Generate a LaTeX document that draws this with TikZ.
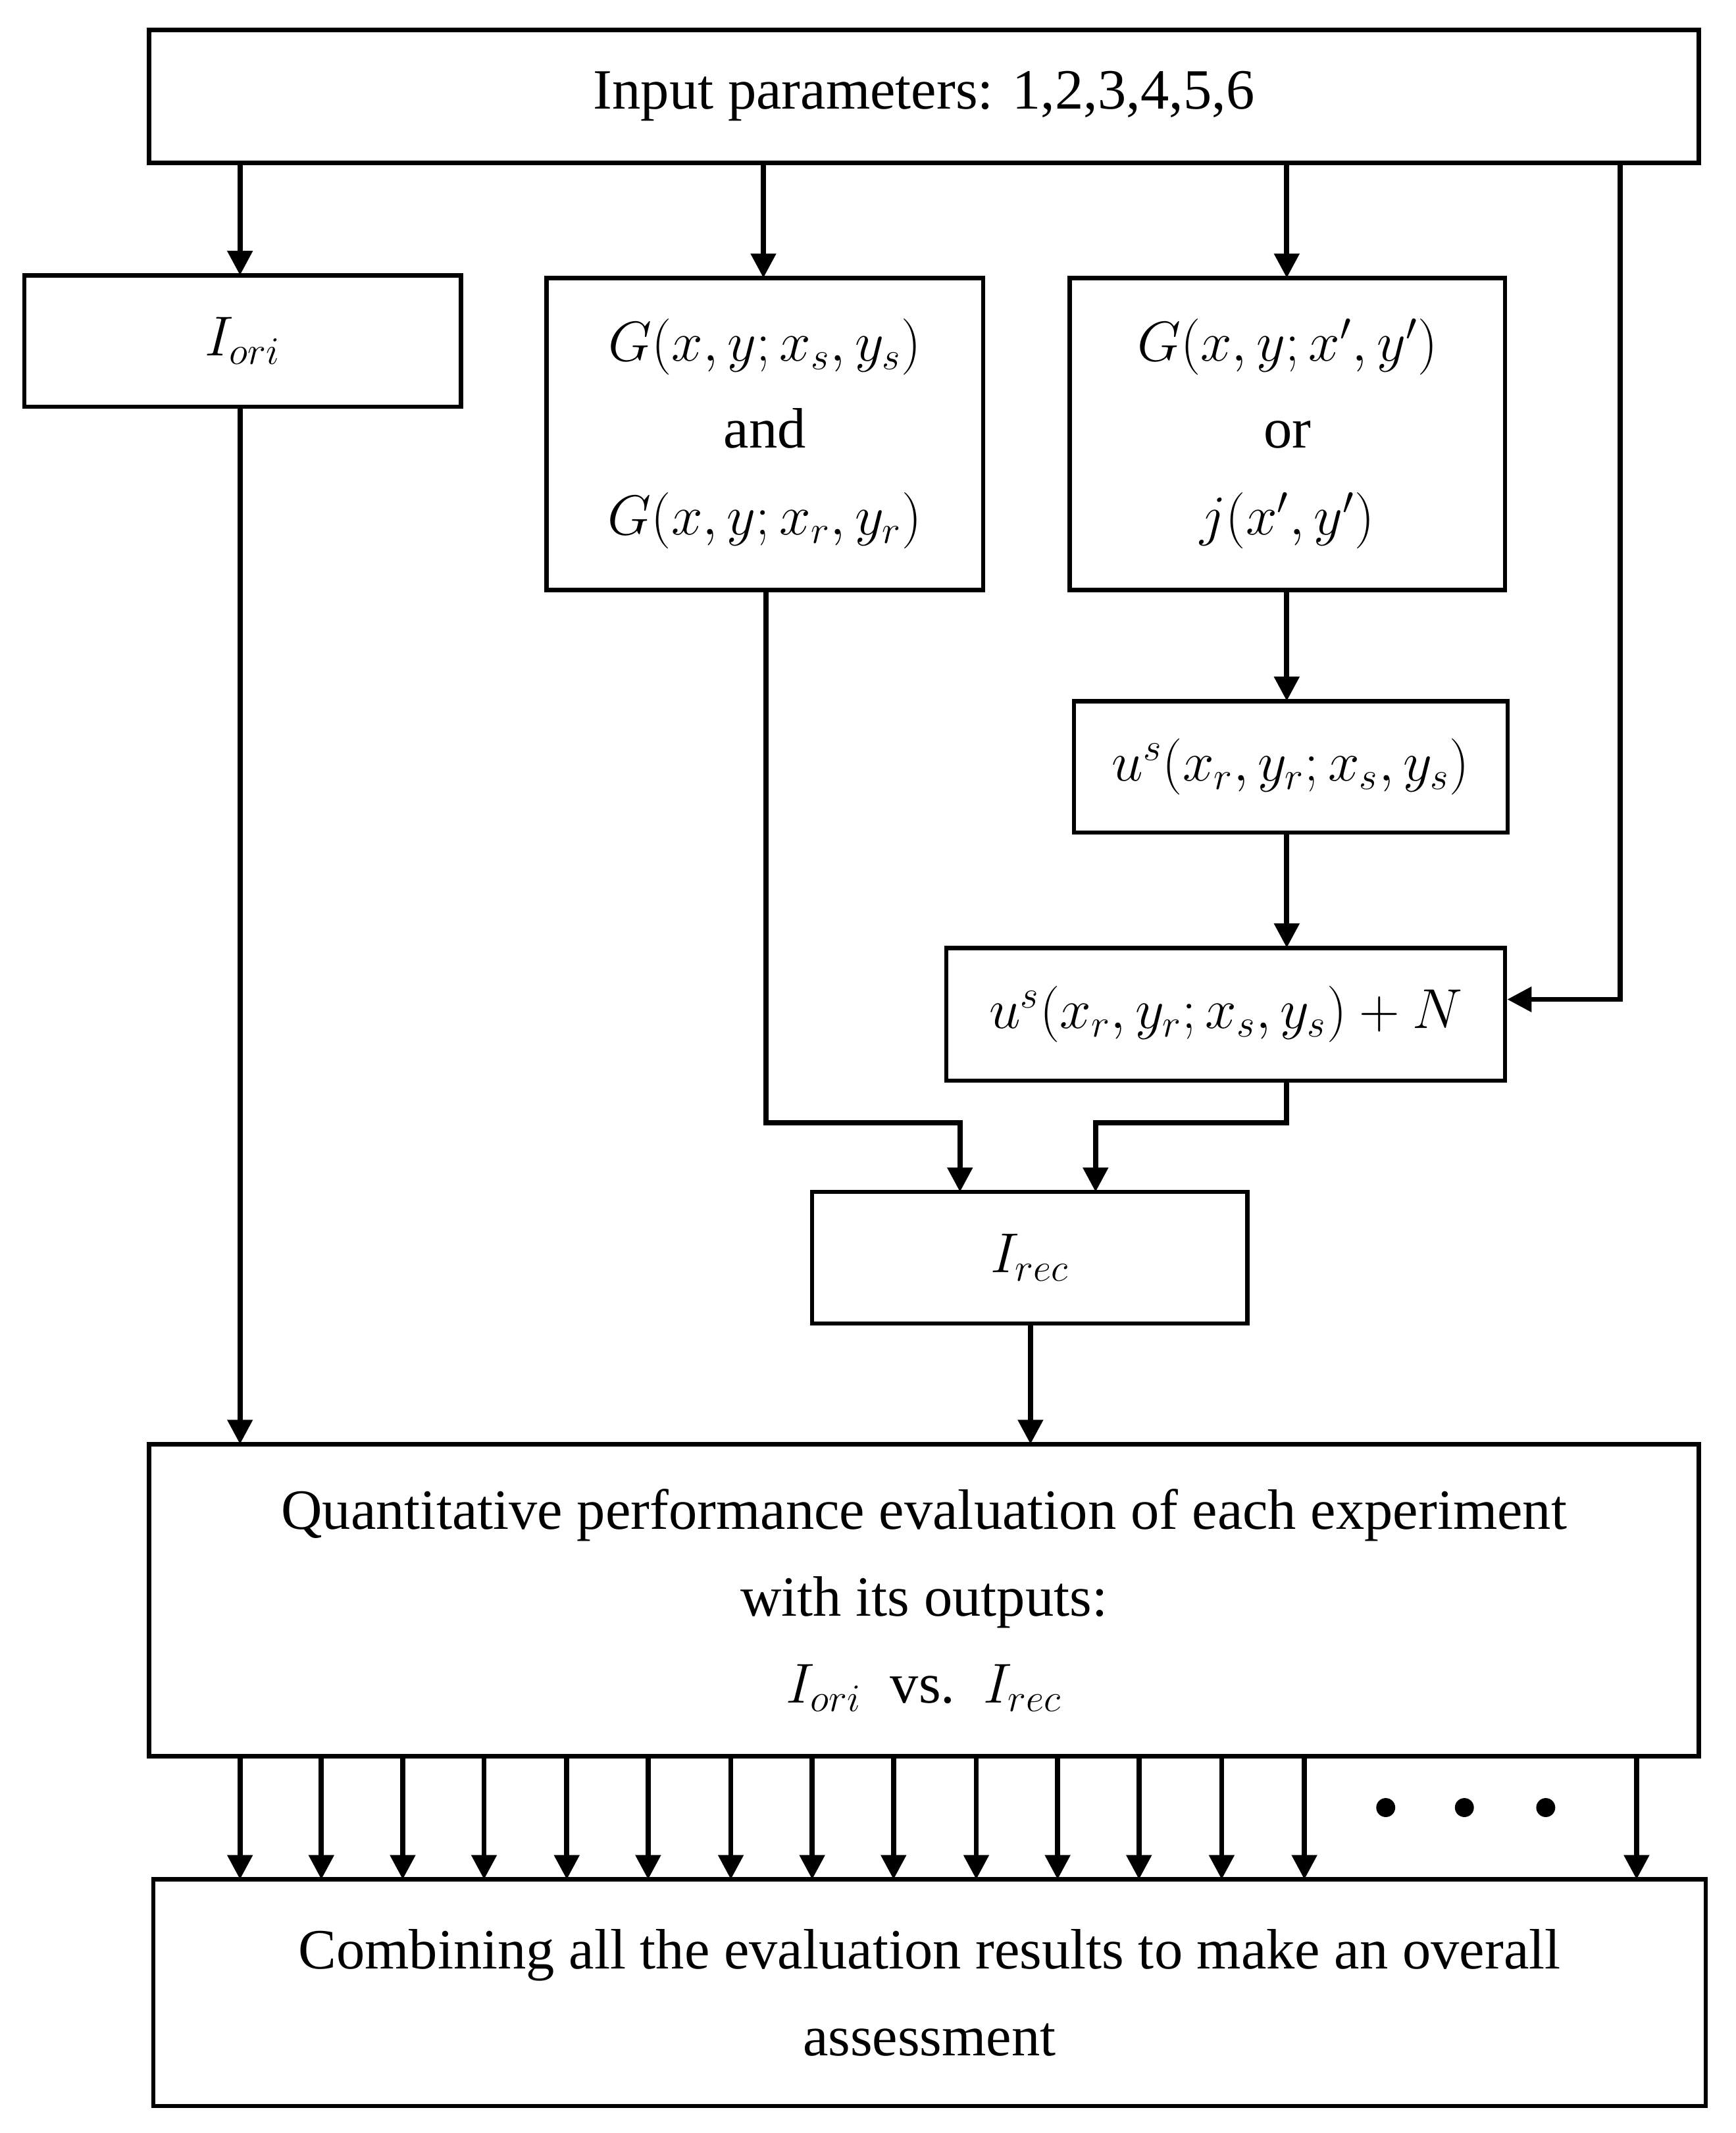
\documentclass[tikz,border=0pt]{standalone}
\usepackage{fontspec}
\setmainfont{Liberation Serif}
\usetikzlibrary{arrows.meta}
\tikzset{box/.style={draw,line width=1.6pt,inner sep=0pt,align=center,font=\fontsize{21}{32}\selectfont},
 ar/.style={line width=1.9pt,-{Triangle[length=9pt,width=9pt]}}}
\newcommand\bx[6]{\node[box,minimum width={(#4-#2)*0.5pt},minimum height={(#5-#3)*0.5pt}] (#1) at ({(#2+#4)/2},{(#3+#5)/2}) {#6};}
\begin{document}
\begin{tikzpicture}[x=0.5pt,y=-0.5pt]
\useasboundingbox (0,0) rectangle (1280,1573);
\bx{top}{110}{22}{1253}{120}{Input parameters: 1,2,3,4,5,6}
\bx{ori}{18}{203}{340}{300}{$I_{ori}$}
\bx{g}{403}{205}{725}{435}{$G(x,y;x_s,y_s)$\\and\\$G(x,y;x_r,y_r)$}
\bx{gp}{789}{205}{1110}{435}{$G(x,y;x',y')$\\or\\$j(x',y')$}
\bx{us}{792}{517}{1112}{614}{$u^s(x_r,y_r;x_s,y_s)$}
\bx{usn}{698}{699}{1110}{797}{$u^s(x_r,y_r;x_s,y_s)+N$}
\bx{rec}{599}{879}{920}{976}{$I_{rec}$}
\bx{q}{110}{1065}{1253}{1295}{Quantitative performance evaluation of each experiment\\with its outputs:\\$I_{ori}$\ \ vs.\ \ $I_{rec}$}
\bx{c}{113}{1386}{1258}{1553}{Combining all the evaluation results to make an overall\\assessment}
\draw[ar] (177,120) -- (177,203);
\draw[ar] (563,120) -- (563,205);
\draw[ar] (949,120) -- (949,205);
\draw[ar] (1195,120) -- (1195,737) -- (usn.east |- {(0,737)});
\draw[ar] (177,300) -- (177,1065);
\draw[ar] (565,435) -- (565,828) -- (708,828) -- (708,879);
\draw[ar] (949,797) -- (949,828) -- (808,828) -- (808,879);
\draw[ar] (949,435) -- (949,517);
\draw[ar] (949,614) -- (949,699);
\draw[ar] (760,976) -- (760,1065);
\foreach \x in {177,237,297,357,418,478,539,599,659,720,780,840,901,962,1207}
  \draw[ar] (\x,1295) -- (\x,1386);
\foreach \x in {1022,1080,1140} \fill (\x,1333) circle (3.5pt);
\end{tikzpicture}
\end{document}
